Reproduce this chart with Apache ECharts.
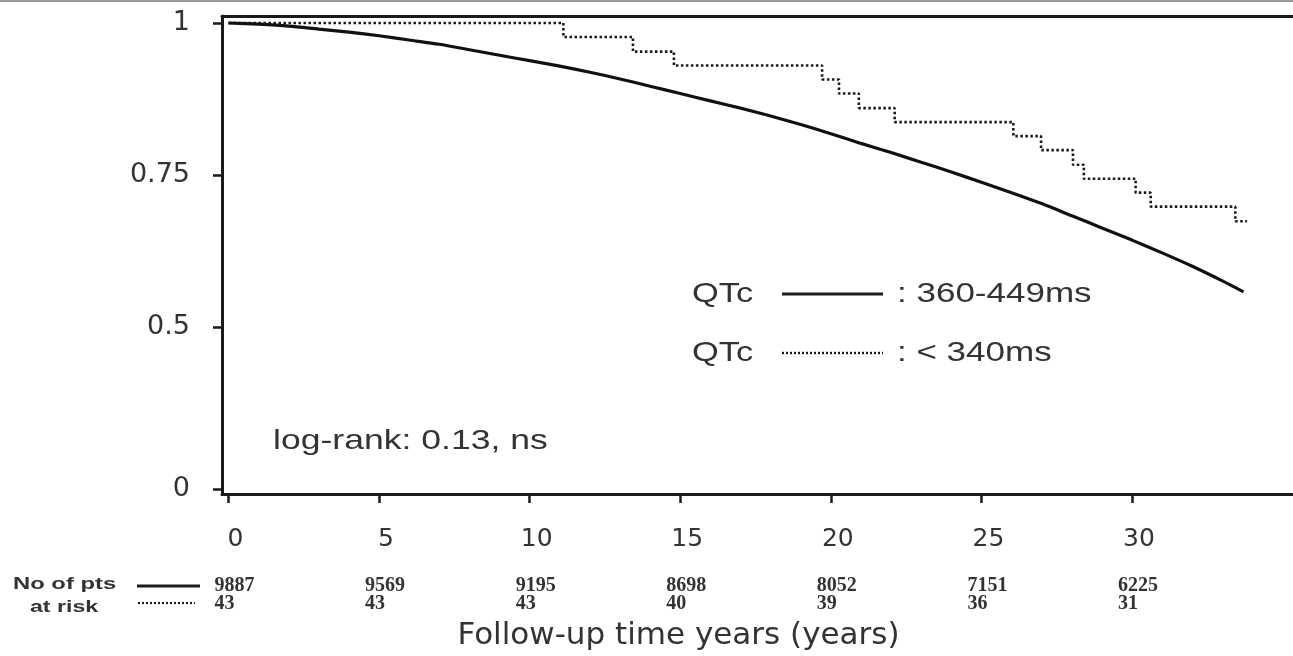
<!DOCTYPE html>
<html>
<head>
<meta charset="utf-8">
<script src="https://cdn.jsdelivr.net/npm/echarts@6/dist/echarts.min.js"></script>
<style>
html,body{margin:0;padding:0;background:#fff;}
#chart{width:1293px;height:656px;}
</style>
</head>
<body>
<div id="chart"></div>
<script>
// ---- data ----
const solidTime = [0,1,2,3,4,5,6,7,8,9,10,11,12,13,14,15,16,17,18,19,20,21,22,23,24,25,26,27,28,29,30,31,32,33,33.7];
const solidSurv = [1.0,0.998,0.995,0.990,0.985,0.979,0.972,0.965,0.956,0.947,0.938,0.929,0.919,0.908,0.896,0.884,0.872,0.860,0.847,0.833,0.818,0.802,0.787,0.771,0.755,0.738,0.721,0.703,0.683,0.663,0.643,0.622,0.600,0.576,0.558];
const dottedTime = [0,11.12,13.43,14.79,19.71,20.27,20.93,22.12,26.06,26.98,28.04,28.40,30.12,30.62,33.43,33.82];
const dottedSurv = [1.0,0.977,0.953,0.930,0.907,0.884,0.860,0.837,0.814,0.791,0.767,0.744,0.721,0.698,0.674,0.674];
const xTicks = [0,5,10,15,20,25,30];
const yTicks = [0,0.5,0.75,1];
const riskSolid = [9887,9569,9195,8698,8052,7151,6225];
const riskDotted = [43,43,43,40,39,36,31];
const seriesNames = ['QTc : 360-449ms','QTc : < 340ms'];

// the reference's y axis is truncated: "0" sits just under the 0.5 band
const AXIS_FLOOR = 0.2336;
const yTickPos = yTicks.map(v => v === 0 ? AXIS_FLOOR : v);

const X_MIN = -0.215, X_MAX = 35.345;
const ink = '#1a1a1a', txt = '#333';

const chart = echarts.init(document.getElementById('chart'), null, {renderer:'canvas'});

function riskAxis(values, margin){
  return {
    type:'value', position:'bottom', min:X_MIN, max:X_MAX,
    axisLine:{show:false, onZero:false}, axisTick:{show:false}, splitLine:{show:false},
    axisLabel:{
      customValues:xTicks, margin:margin,
      formatter: v => '{n|' + values[xTicks.indexOf(v)] + '}',
      rich:{n:{width:28, align:'left', fontFamily:'Liberation Serif', fontWeight:'bold', fontSize:20, color:txt}}
    }
  };
}

function gText(text, x, y, size, sx, weight){
  return {type:'text', x:x, y:y, scaleX:sx, silent:true,
    style:{text:text, fontFamily:'Liberation Sans', fontSize:size, fontWeight:weight||'normal',
      fill:txt, textAlign:'left', textVerticalAlign:'middle'}};
}
function gLine(x1,x2,y,w,dash){
  return {type:'line', silent:true, shape:{x1:x1,y1:y,x2:x2,y2:y},
    style:{stroke:ink, lineWidth:w, lineDash:dash||null}};
}

const option = {
  animation:false,
  backgroundColor:'#fff',
  grid:{left:222, top:16, right:-5, bottom:162, containLabel:false},
  xAxis:[
    {
      type:'value', min:X_MIN, max:X_MAX, position:'bottom',
      axisLine:{show:true, onZero:false, lineStyle:{color:ink, width:3}},
      axisTick:{show:true, customValues:xTicks, length:9, lineStyle:{color:ink, width:2.5}},
      axisLabel:{customValues:xTicks, margin:33, fontFamily:'DejaVu Sans', fontSize:25, color:txt, padding:[0,0,0,14]},
      splitLine:{show:false},
      name:'Follow-up time years (years)', nameLocation:'middle', nameGap:126,
      nameTextStyle:{fontFamily:'DejaVu Sans', fontSize:31, color:txt, padding:[0,158,0,0]}
    },
    {
      type:'value', min:X_MIN, max:X_MAX, position:'top',
      axisLine:{show:true, onZero:false, lineStyle:{color:ink, width:3}},
      axisTick:{show:false}, axisLabel:{show:false}, splitLine:{show:false}
    },
    riskAxis(riskSolid, 82),
    riskAxis(riskDotted, 100)
  ],
  yAxis:{
    type:'value', min:0.2255, max:1.0115,
    axisLine:{show:true, onZero:false, lineStyle:{color:ink, width:3}},
    axisTick:{show:true, customValues:yTickPos, length:9, lineStyle:{color:ink, width:2.5}},
    axisLabel:{customValues:yTickPos, margin:32, fontFamily:'DejaVu Sans', fontSize:27, color:txt,
      formatter: v => String(yTicks[yTickPos.indexOf(v)])},
    splitLine:{show:false}
  },
  series:[
    {
      name:seriesNames[1], type:'line', xAxisIndex:0, yAxisIndex:0, step:'end',
      showSymbol:false, data:dottedTime.map((t,i)=>[t, dottedSurv[i]]),
      lineStyle:{color:ink, width:2.6, type:[2.5,2.5]}
    },
    {
      name:seriesNames[0], type:'line', xAxisIndex:0, yAxisIndex:0, smooth:0.3,
      showSymbol:false, data:solidTime.map((t,i)=>[t, solidSurv[i]]),
      lineStyle:{color:'#111', width:3.2}
    }
  ],
  graphic:[
    {type:'line', silent:true, shape:{x1:0,y1:1,x2:1293,y2:1}, style:{stroke:'#9a9a9a', lineWidth:2}},
    gText('QTc', 692, 294, 28, 1.23),
    gLine(782, 883, 294, 3),
    gText(': 360-449ms', 897, 294, 28, 1.25),
    gText('QTc', 692, 353, 28, 1.23),
    gLine(782, 883, 353, 2.4, [2,2]),
    gText(': < 340ms', 897, 353, 28, 1.25),
    gText('log-rank: 0.13, ns', 273, 441, 28, 1.27),
    gText('No of pts', 13, 584, 17, 1.4, 'bold'),
    gText('at risk', 30, 607, 17, 1.36, 'bold'),
    gLine(137, 200, 586, 3),
    gLine(138, 195, 603, 2.2, [2,2])
  ]
};
chart.setOption(option);
</script>
</body>
</html>
